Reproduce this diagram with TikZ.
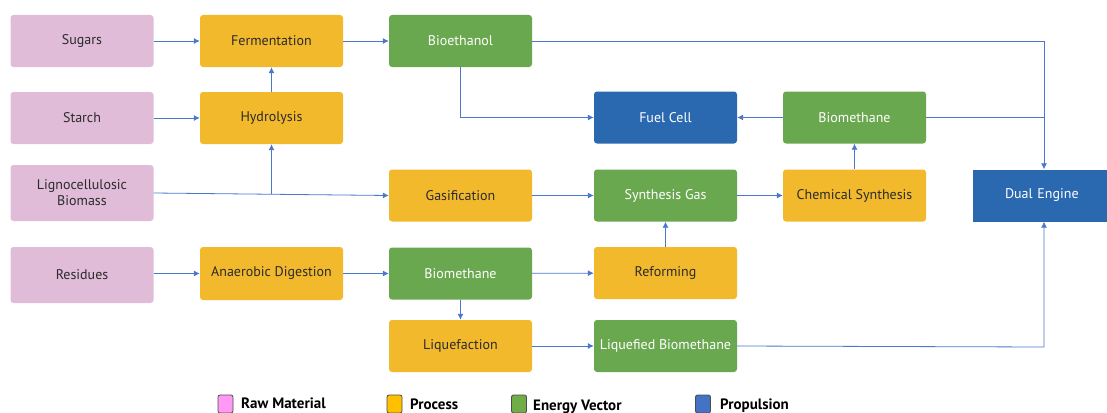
\documentclass[tikz,border=0pt]{standalone}
\usepackage{fontspec}
\setmainfont{PT Sans}
\usetikzlibrary{arrows.meta}
\definecolor{rawc}{HTML}{E0BCD8}
\definecolor{procc}{HTML}{F2B92C}
\definecolor{enc}{HTML}{6AA84F}
\definecolor{propc}{HTML}{2A69B0}
\definecolor{arrc}{HTML}{4A78CC}
\definecolor{txtc}{HTML}{2B2B2B}
\definecolor{lraw}{HTML}{FF99F5}
\definecolor{lproc}{HTML}{FFC000}
\definecolor{len}{HTML}{70AD47}
\definecolor{lprop}{HTML}{4472C4}
\tikzset{
  box/.style={rounded corners=3pt, minimum width=143pt, minimum height=52pt, inner sep=2pt, font=\fontsize{14}{16}\selectfont, align=center},
  rawbox/.style={box, fill=rawc, text=txtc},
  procbox/.style={box, fill=procc, text=txtc},
  enbox/.style={box, fill=enc, text=white},
  propbox/.style={box, fill=propc, text=white},
  conn/.style={draw=arrc, line width=0.8pt},
  arr/.style={conn, -{Latex[length=6pt,width=6pt]}},
  legbox/.style={draw=black!70, line width=0.8pt, rounded corners=2pt, minimum width=15pt, minimum height=18pt, inner sep=0pt},
  legtxt/.style={font=\fontsize{15}{17}\selectfont\bfseries, text=black, anchor=base west, inner sep=0pt}
}
\begin{document}
\begin{tikzpicture}[x=1pt,y=-1pt]
\useasboundingbox (0,0) rectangle (1107,412);
% raw materials
\node[rawbox] (sug) at (82,41) {Sugars};
\node[rawbox] (sta) at (82,118) {Starch};
\node[rawbox, minimum height=56pt] (lig) at (82,193) {Lignocellulosic\\Biomass};
\node[rawbox, minimum height=56pt] (res) at (82,275) {Residues};
% processes col 2
\node[procbox] (fer) at (271.5,41) {Fermentation};
\node[procbox] (hyd) at (271.5,118) {Hydrolysis};
\node[procbox, minimum height=53pt] (ana) at (271.5,273.5) {Anaerobic Digestion};
% col 3
\node[enbox] (eth) at (460.5,41) {Bioethanol};
\node[procbox] (gas) at (460.5,195.5) {Gasification};
\node[enbox] (bm1) at (460.5,273.5) {Biomethane};
\node[procbox] (liq) at (460.5,346) {Liquefaction};
% col 4
\node[propbox] (fc) at (665.5,117.5) {Fuel Cell};
\node[enbox] (syn) at (665.5,195.5) {Synthesis Gas};
\node[procbox] (ref) at (665.5,273) {Reforming};
\node[enbox] (lbm) at (665.5,346) {Liquefied Biomethane};
% col 5
\node[enbox] (bm2) at (854.5,117.5) {Biomethane};
\node[procbox] (chs) at (854.5,195.5) {Chemical Synthesis};
% dual engine (cut at right edge)
\node[propbox, rounded corners=0pt, minimum width=150pt, text width=140pt, align=left] (de) at (1048,195.5) {\hspace*{27pt}Dual Engine};
% connectors
\draw[arr] (sug) -- (fer);
\draw[arr] (sta) -- (hyd);
\draw[arr] (hyd) -- (fer);
\draw[arr] (lig.east) -- (gas.west);
\coordinate (br) at (271.5,194);
\draw[arr] (br) -- (hyd.south);
\draw[arr] (fer) -- (eth);
\coordinate (c1) at (1044,41);
\draw[arr] (eth.east) -- (c1) -- (de.north -| c1);
\coordinate (c2) at (460.5,117.5);
\draw[arr] (eth.south) -- (c2) -- (fc.west);
\draw[arr] (bm2) -- (fc);
\draw[conn] (bm2.east) -- (1044,117.5);
\draw[arr] (chs) -- (bm2);
\draw[arr] (gas) -- (syn);
\draw[arr] (syn) -- (chs);
\draw[arr] (res.east |- ana) -- (ana);
\draw[arr] (ana) -- (bm1);
\draw[arr] (bm1) -- (ref);
\draw[arr] (ref) -- (syn);
\draw[arr] (bm1) -- (liq);
\draw[arr] (liq) -- (lbm);
\coordinate (c3) at (1044,347);
\draw[arr] (lbm.east) -- (c3) -- (de.south -| c3);
% legend
\node[legbox, fill=lraw] (l1) at (225.5,404) {};
\node[legtxt] (t1) at (241,408.5) {Raw Material};
\node[legbox, fill=lproc] (l2) at (394.5,404) {};
\node[legtxt] (t2) at (410,409) {Process};
\node[legbox, fill=len] (l3) at (519,404) {};
\node[legtxt] (t3) at (533,410.5) {Energy Vector};
\node[legbox, fill=lprop] (l4) at (703,404) {};
\node[legtxt] (t4) at (720,409) {Propulsion};
\end{tikzpicture}
\end{document}
